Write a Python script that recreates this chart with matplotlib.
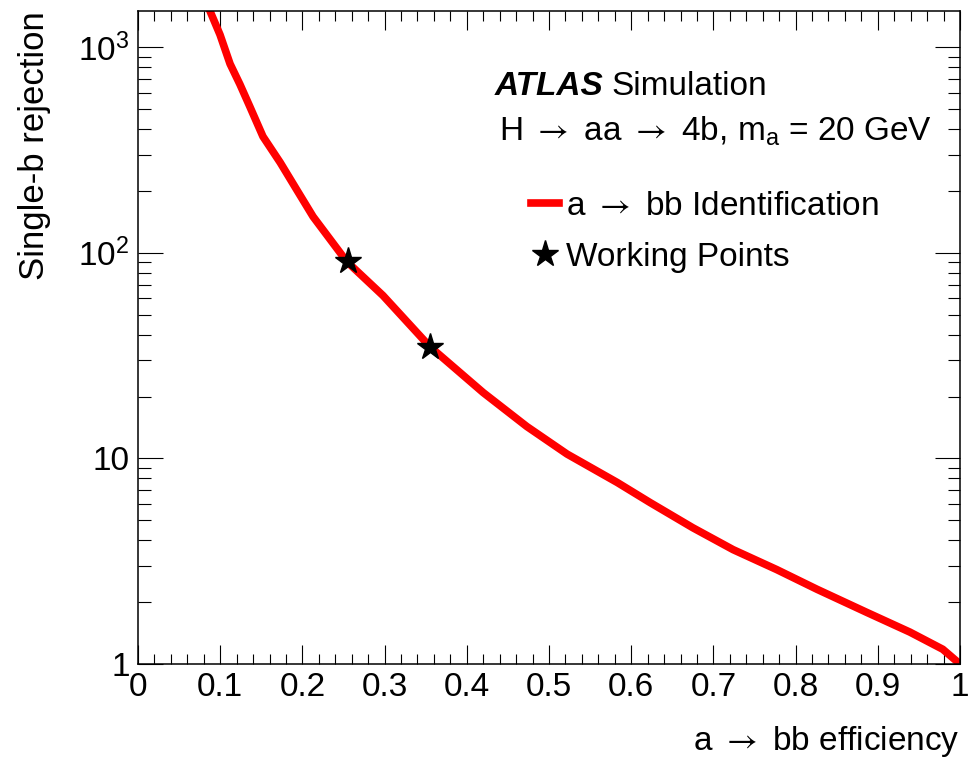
import matplotlib
matplotlib.use("Agg")
import matplotlib.pyplot as plt
from matplotlib.ticker import FixedLocator, FixedFormatter, MultipleLocator, LogLocator, NullFormatter

plt.rcParams['font.family'] = ['Liberation Sans', 'DejaVu Sans']
plt.rcParams['mathtext.fontset'] = 'custom'
plt.rcParams['mathtext.rm'] = 'Liberation Sans'
plt.rcParams['mathtext.it'] = 'Liberation Sans:italic'
plt.rcParams['mathtext.bf'] = 'Liberation Sans:bold'
plt.rcParams['mathtext.sf'] = 'STIXGeneral'

ARROW = r'${\mathsf{\rightarrow}}$'

# ROC curve
efficiency = [0.0876, 0.0998, 0.112, 0.124, 0.136, 0.152, 0.173, 0.193, 0.213, 0.254,
              0.298, 0.355, 0.420, 0.473, 0.522, 0.583, 0.623, 0.675, 0.724, 0.777,
              0.826, 0.887, 0.939, 0.979, 1.0]
rejection = [1500, 1150, 830, 660, 515, 368, 275, 203, 150, 90.7,
             62, 35, 20.9, 14.3, 10.5, 7.64, 6.1, 4.6, 3.6, 2.88,
             2.31, 1.78, 1.43, 1.18, 1.0]

# working points
wp_eff = [0.255, 0.355]
wp_rej = [91, 35]

ytick_vals = [1, 10, 100, 1000]
ytick_labels = ['1', '10', r'$10^{2}$', r'$10^{3}$']
xtick_vals = [0, 0.1, 0.2, 0.3, 0.4, 0.5, 0.6, 0.7, 0.8, 0.9, 1.0]
xtick_labels = ['0', '0.1', '0.2', '0.3', '0.4', '0.5', '0.6', '0.7', '0.8', '0.9', '1']

fig = plt.figure(figsize=(9.69, 7.65), dpi=100)
ax = fig.add_axes([0.1424, 0.132, 0.8483, 0.8536])

ax.plot(efficiency, rejection, color='red', lw=5.5, label='a ' + ARROW + ' bb Identification')
ax.plot(wp_eff, wp_rej, ls='none', marker='*', color='black', markersize=20,
        label='Working Points')

ax.set_yscale('log')
ax.set_xlim(0, 1)
ax.set_ylim(1, 1500)

ax.set_xticks(xtick_vals)
ax.set_xticklabels(xtick_labels)
ax.xaxis.set_minor_locator(MultipleLocator(0.02))
ax.yaxis.set_major_locator(FixedLocator(ytick_vals))
ax.yaxis.set_major_formatter(FixedFormatter(ytick_labels))
ax.yaxis.set_minor_locator(LogLocator(base=10, subs=range(2, 10)))
ax.yaxis.set_minor_formatter(NullFormatter())

ax.tick_params(which='both', direction='in', top=True, right=True, labelsize=24, width=0.8)
ax.tick_params(axis='x', which='major', length=14, pad=6)
ax.tick_params(axis='x', which='minor', length=7)
ax.tick_params(axis='y', which='major', length=18, pad=6)
ax.tick_params(axis='y', which='minor', length=9)
for s in ax.spines.values():
    s.set_linewidth(1.1)

ax.set_xlabel('a ' + ARROW + ' bb efficiency', fontsize=24, loc='right', labelpad=15)
ax.set_ylabel('Single-b rejection', fontsize=25, loc='top', labelpad=20)

ax.text(0.434, 0.871, 'ATLAS', transform=ax.transAxes, fontsize=24,
        fontweight='bold', fontstyle='italic')
ax.text(0.576, 0.871, 'Simulation', transform=ax.transAxes, fontsize=24)
ax.text(0.439, 0.802, 'H ' + ARROW + ' aa ' + ARROW + r' 4b, m$_{\mathregular{a}}$ = 20 GeV',
        transform=ax.transAxes, fontsize=24)

ax.legend(loc='upper left', bbox_to_anchor=(0.462, 0.745), frameon=False, fontsize=24,
          handlelength=0.85, handletextpad=0.2, labelspacing=0.6, borderaxespad=0)

fig.savefig('out.png', dpi=100)
